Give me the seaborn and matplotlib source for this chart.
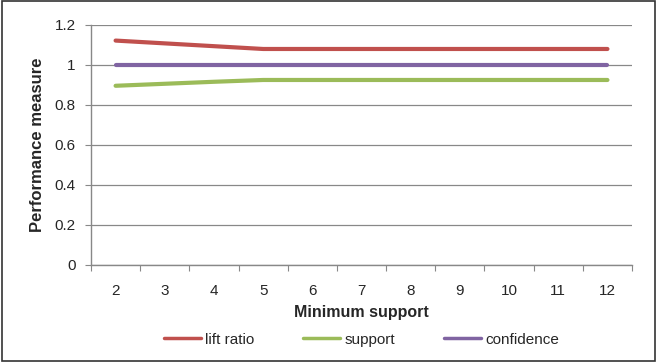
import matplotlib
matplotlib.use("Agg")
import matplotlib.pyplot as plt
import seaborn as sns
import numpy as np
import pandas as pd

# data
min_support = [2, 3, 4, 5, 6, 7, 8, 9, 10, 11, 12]
lift_ratio = [1.122, 1.108, 1.094, 1.08, 1.08, 1.08, 1.08, 1.08, 1.08, 1.08, 1.08]
support = [0.896, 0.906, 0.916, 0.925, 0.925, 0.925, 0.925, 0.925, 0.925, 0.925, 0.925]
confidence = [1.0] * 11

series = ["lift ratio", "support", "confidence"]
colors = ["#C0504D", "#9BBB59", "#8064A2"]

df = pd.DataFrame({
    "pos": list(range(len(min_support))) * 3,
    "value": lift_ratio + support + confidence,
    "measure": np.repeat(series, len(min_support)),
})

sns.set_style("white")
plt.rcParams["font.family"] = ["Liberation Sans", "DejaVu Sans"]

fig = plt.figure(figsize=(6.57, 3.62), dpi=100)
ax = fig.add_axes([0.1385, 0.268, 0.8235, 0.663])

sns.lineplot(data=df, x="pos", y="value", hue="measure", hue_order=series,
             palette=colors, linewidth=3, ax=ax, legend=True)

ax.set_ylim(0, 1.2)
ax.set_yticks(np.arange(0, 1.21, 0.2))
ax.set_yticklabels(["0", "0.2", "0.4", "0.6", "0.8", "1", "1.2"], fontsize=11)
ax.yaxis.grid(True, color="#888888", linewidth=0.9)
ax.set_axisbelow(True)

ax.set_xlim(-0.5, len(min_support) - 0.5)
ax.set_xticks(np.arange(-0.5, len(min_support), 1.0))
ax.set_xticklabels([])
ax.set_xticks(range(len(min_support)), minor=True)
ax.set_xticklabels([str(v) for v in min_support], minor=True, fontsize=11)
ax.tick_params(axis="x", which="minor", length=0, pad=14)
ax.tick_params(axis="x", which="major", length=4, direction="out", color="#888888")
ax.tick_params(axis="y", length=4, direction="out", color="#888888", pad=7)
ax.tick_params(bottom=True, left=True)

for s in ["top", "right"]:
    ax.spines[s].set_visible(False)
for s in ["left", "bottom"]:
    ax.spines[s].set_color("#888888")
    ax.spines[s].set_linewidth(1)

ax.set_xlabel("Minimum support", fontsize=11.5, fontweight="bold", labelpad=5)
ax.set_ylabel("Performance measure", fontsize=12, fontweight="bold", labelpad=7)

handles, labels = ax.get_legend_handles_labels()
leg = ax.legend(handles, labels, loc="upper center", bbox_to_anchor=(0.5, -0.225),
                ncol=3, frameon=False, fontsize=11, handlelength=2.4,
                columnspacing=3.2, handletextpad=0.3)
for line in leg.get_lines():
    line.set_linewidth(2.5)

# outer chart border
fig.patches.append(plt.Rectangle((0.003, 0.004), 0.994, 0.992, transform=fig.transFigure,
                                 fill=False, edgecolor="#333333", linewidth=1.2))

fig.savefig("out.png", dpi=100)
